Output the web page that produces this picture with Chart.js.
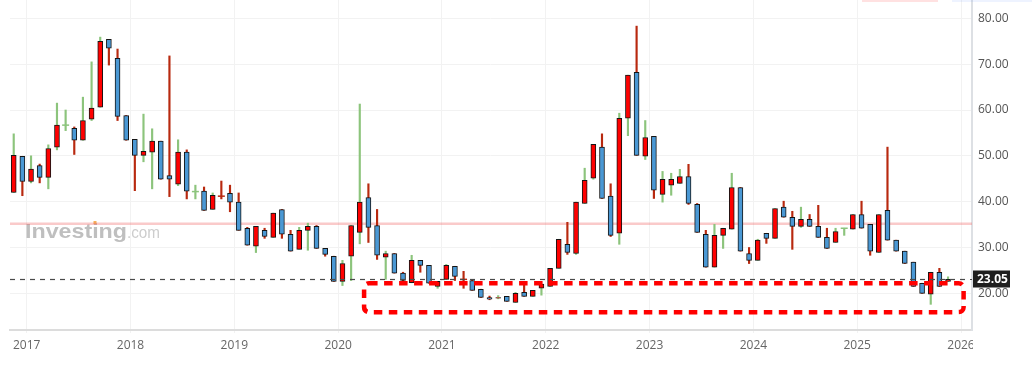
<!DOCTYPE html>
<html>
<head>
<meta charset="utf-8">
<script src="https://cdn.jsdelivr.net/npm/chart.js@4.4.1/dist/chart.umd.min.js"></script>
<style>
  html, body { margin: 0; padding: 0; background: #fff; }
  #chart { display: block; }
</style>
</head>
<body>
<canvas id="chart" width="1036" height="365"></canvas>
<script>
// ── Dados (velas mensais, nov/2016 → nov/2025) ───────────────────────────────
const firstMonthOffset = -2; // nov/2016 = 2 meses antes de jan/2017

const opens = [
  42.0, 49.9, 44.4, 47.9, 45.3, 51.9, 56.65, 56.0, 53.4, 58.0, 60.6, 75.4,
  71.3, 58.8, 53.6, 50.1, 50.8, 53.2, 45.7, 43.8, 50.8, 42.15, 42.3, 38.3,
  41.25, 41.8, 39.9, 34.2, 30.3, 33.75, 32.2, 38.3, 32.9, 29.6, 33.75, 34.6,
  29.8, 28.1, 22.6, 28.1, 33.3, 40.9, 34.8, 27.9, 28.7, 24.4, 22.3, 27.2,
  26.1, 21.5, 23.05, 25.9, 23.1, 22.8, 20.9, 19.1, 18.95, 19.35, 18.0, 20.2,
  19.35, 21.1, 21.5, 25.45, 30.7, 28.7, 39.6, 45.1, 51.9, 41.2, 33.1, 58.2,
  68.2, 49.9, 54.25, 41.6, 43.6, 44.0, 45.5, 39.4, 32.9, 25.7, 32.65, 34.0,
  43.1, 28.7, 27.2, 33.1, 32.0, 38.8, 36.6, 34.6, 36.15, 34.6, 32.2, 31.1,
  34.15, 34.0, 37.2, 35.05, 28.9, 38.1, 31.6, 29.2, 26.8, 22.2, 19.8, 24.6,
  22.6
];
const highs = [
  54.8, 49.9, 50.0, 48.2, 52.4, 61.5, 60.0, 56.3, 62.8, 70.5, 75.9, 75.4,
  73.3, 58.8, 53.6, 59.1, 55.9, 53.2, 71.8, 53.5, 51.3, 43.6, 43.2, 41.9,
  44.5, 43.6, 41.9, 34.4, 34.6, 34.2, 37.5, 38.3, 33.75, 34.4, 35.3, 34.8,
  29.8, 28.1, 27.2, 34.8, 61.3, 43.9, 38.3, 29.2, 28.7, 24.6, 28.3, 27.2,
  26.1, 22.6, 26.3, 25.9, 24.8, 23.05, 20.9, 19.4, 19.5, 19.35, 20.2, 22.2,
  20.65, 22.0, 25.45, 31.8, 35.5, 39.9, 47.3, 52.5, 54.8, 43.9, 59.3, 67.6,
  78.3, 57.7, 54.25, 46.6, 46.2, 47.05, 48.15, 39.6, 33.75, 35.05, 34.2, 46.2,
  43.1, 30.0, 31.8, 33.1, 38.5, 40.1, 37.9, 38.8, 37.2, 39.2, 34.2, 34.2,
  34.2, 37.2, 40.1, 35.05, 37.2, 51.9, 31.6, 29.2, 26.8, 22.2, 24.6, 25.45,
  23.6
];
const lows = [
  42.0, 41.3, 44.1, 44.1, 42.8, 51.3, 55.5, 50.3, 53.4, 57.7, 60.6, 69.8,
  57.7, 53.4, 42.4, 48.7, 42.8, 44.9, 41.1, 43.5, 40.6, 40.6, 38.1, 38.3,
  40.6, 37.8, 33.75, 30.5, 28.9, 32.0, 32.2, 32.0, 29.2, 29.6, 29.4, 29.8,
  28.1, 22.6, 21.7, 22.8, 30.8, 31.1, 27.4, 23.05, 24.4, 22.4, 22.3, 24.6,
  22.2, 21.1, 23.0, 22.8, 21.1, 20.65, 19.1, 18.6, 18.8, 18.25, 18.0, 19.35,
  19.35, 19.6, 21.5, 25.45, 28.5, 28.5, 39.6, 44.9, 40.7, 32.4, 30.7, 54.4,
  50.1, 49.2, 40.7, 39.9, 41.4, 44.0, 39.4, 33.3, 25.7, 25.7, 29.8, 34.0,
  29.2, 26.5, 27.2, 30.9, 32.0, 36.6, 29.6, 34.4, 34.6, 32.2, 29.8, 31.1,
  32.65, 34.0, 34.2, 28.3, 28.9, 31.6, 29.2, 26.5, 21.5, 20.0, 17.6, 21.5,
  22.6
];
const closes = [
  50.1, 44.4, 47.1, 45.3, 51.6, 56.7, 56.7, 53.4, 57.7, 60.4, 75.0, 73.5,
  58.6, 53.4, 50.1, 51.0, 53.2, 44.9, 44.9, 50.8, 42.3, 42.2, 38.1, 41.4,
  41.2, 39.9, 33.75, 30.5, 34.6, 32.4, 37.5, 32.9, 29.2, 33.75, 34.6, 29.8,
  28.5, 22.6, 26.5, 34.8, 39.9, 34.4, 28.3, 28.7, 24.4, 22.8, 27.2, 26.1,
  22.2, 22.6, 26.1, 23.7, 23.05, 20.65, 19.1, 18.7, 19.1, 18.25, 20.0, 19.35,
  20.65, 22.0, 25.45, 31.8, 28.9, 39.9, 44.65, 52.5, 40.7, 32.65, 58.2, 67.6,
  50.1, 54.0, 42.5, 44.9, 44.9, 45.5, 39.6, 33.3, 25.7, 32.65, 34.2, 43.1,
  29.2, 27.2, 31.6, 32.0, 38.5, 36.6, 34.6, 36.15, 34.6, 32.2, 29.8, 33.5,
  34.2, 37.2, 34.2, 29.2, 37.2, 31.6, 29.2, 26.5, 21.5, 20.0, 24.6, 21.5,
  23.05
];

const yearLabels = ["2017", "2018", "2019", "2020", "2021", "2022", "2023", "2024", "2025", "2026"];
const priceTicks = [20, 30, 40, 50, 60, 70, 80];

const lastPrice    = 23.05;          // linha tracejada + etiqueta
const resistance   = 35.2;           // linha rosa horizontal
const zoneMonths   = [38.5, 107.8];  // caixa vermelha (meses desde jan/2017)
const zonePrices   = [15.9, 22.2];

// ── Cores ───────────────────────────────────────────────────────────────────
const UP_BODY   = "#ff0000";
const DOWN_BODY = "#4a98d4";
const UP_WICK   = "#8cc47c";
const DOWN_WICK = "#b8290f";
const OUTLINE   = "#151515";

// ── Montagem dos datasets ───────────────────────────────────────────────────
const wickPts = [], wickColors = [];
const bodyPts = [], bodyColors = [];
const dojiPts = [], dojiColors = [];

opens.forEach((o, i) => {
  const c = closes[i];
  const x = i + firstMonthOffset;
  const wickColor = c >= o ? UP_WICK : DOWN_WICK;

  wickPts.push({ x, y: [lows[i], highs[i]] });
  wickColors.push(wickColor);

  if (Math.abs(c - o) < 0.08) {
    dojiPts.push({ x, y: c });
    dojiColors.push(wickColor);
  } else {
    bodyPts.push({ x, y: [o, c] });
    bodyColors.push(c > o ? UP_BODY : DOWN_BODY);
  }
});

// ── Plugin: marcas extras (marca d'água, linhas, caixa, etiqueta) ──────────
/**
 * Escreve um texto esticado até a largura pedida.
 */
function fitText(ctx, text, x, y, width, font, color) {
  ctx.font = font;
  ctx.fillStyle = color;
  const w = ctx.measureText(text).width;
  ctx.save();
  ctx.translate(x, y);
  ctx.scale(width / w, 1);
  ctx.fillText(text, 0, 0);
  ctx.restore();
}

const overlays = {
  id: "overlays",
  beforeDatasetsDraw(chart) {
    const { ctx, chartArea: a, scales: { y } } = chart;
    ctx.save();

    // marca d'água
    ctx.textBaseline = "alphabetic";
    fitText(ctx, "Investing", 25, 238, 102, "bold 21px 'Liberation Sans', sans-serif", "#bfbfbf");
    fitText(ctx, ".com", 127, 238, 33, "16px 'Liberation Sans', sans-serif", "#cdcdcd");
    ctx.fillStyle = "#f6b15a";
    ctx.fillRect(93.5, 221, 3, 3);

    // linha rosa
    const ry = y.getPixelForValue(resistance);
    ctx.strokeStyle = "rgba(240, 90, 90, 0.32)";
    ctx.lineWidth = 2.5;
    ctx.beginPath();
    ctx.moveTo(a.left, ry);
    ctx.lineTo(a.right, ry);
    ctx.stroke();

    ctx.restore();
  },
  afterDatasetsDraw(chart) {
    const { ctx, chartArea: a, scales: { x, y } } = chart;
    ctx.save();

    // último preço, tracejado
    const py = Math.round(y.getPixelForValue(lastPrice)) + 0.5;
    ctx.strokeStyle = "#4a4a4a";
    ctx.lineWidth = 1.2;
    ctx.setLineDash([5, 5]);
    ctx.beginPath();
    ctx.moveTo(a.left, py);
    ctx.lineTo(a.right, py);
    ctx.stroke();

    // caixa vermelha tracejada
    const x0 = x.getPixelForValue(zoneMonths[0]);
    const x1 = x.getPixelForValue(zoneMonths[1]);
    const y0 = y.getPixelForValue(zonePrices[1]);
    const y1 = y.getPixelForValue(zonePrices[0]);
    ctx.strokeStyle = "#ff0000";
    ctx.lineWidth = 4.5;
    ctx.setLineDash([8.5, 6.5]);
    ctx.beginPath();
    ctx.roundRect(x0, y0, x1 - x0, y1 - y0, 5);
    ctx.stroke();
    ctx.setLineDash([]);

    // etiqueta do preço
    ctx.fillStyle = "#1f1f1f";
    ctx.fillRect(a.right + 1, py - 9, 37, 17);
    ctx.fillStyle = "#ffffff";
    ctx.font = "bold 12px 'Open Sans', sans-serif";
    ctx.textBaseline = "middle";
    ctx.textAlign = "left";
    ctx.fillText(lastPrice.toFixed(2), a.right + 5, py + 0.5);

    ctx.restore();
  },
  afterDraw(chart) {
    const { ctx, chartArea: a } = chart;
    ctx.save();
    // rótulo de 2026 cortado na borda do gráfico
    ctx.fillStyle = "#ffffff";
    ctx.fillRect(a.right + 1, a.bottom + 2, chart.width - a.right, chart.height - a.bottom);
    // restos dos botões no topo
    ctx.fillStyle = "rgba(255, 90, 90, 0.18)";
    ctx.fillRect(862, 0, 76, 2);
    ctx.fillStyle = "rgba(90, 140, 255, 0.10)";
    ctx.fillRect(952, 0, 80, 2);
    ctx.restore();
  },
};

// ── Gráfico ─────────────────────────────────────────────────────────────────
Chart.defaults.font.family = "'Open Sans', sans-serif";

new Chart(document.getElementById("chart"), {
  type: "bar",
  data: {
    datasets: [
      {
        label: "pavio",
        data: wickPts,
        backgroundColor: wickColors,
        borderWidth: 0,
        barThickness: 1.5,
        grouped: false,
        order: 3,
      },
      {
        label: "corpo",
        data: bodyPts,
        backgroundColor: bodyColors,
        borderColor: OUTLINE,
        borderWidth: 1,
        borderSkipped: false,
        barThickness: 5,
        grouped: false,
        order: 2,
      },
      {
        type: "scatter",
        label: "doji",
        data: dojiPts,
        pointStyle: "line",
        radius: 3.5,
        borderWidth: 1.5,
        borderColor: dojiColors,
        showLine: false,
        order: 1,
      },
    ],
  },
  options: {
    responsive: false,
    animation: false,
    devicePixelRatio: 1,
    layout: { autoPadding: false, padding: { left: 10, right: 0, top: 0, bottom: 0 } },
    plugins: { legend: { display: false }, tooltip: { enabled: false } },
    events: [],
    scales: {
      x: {
        type: "linear",
        min: -2.43,
        max: 108.77,
        offset: false,
        afterBuildTicks: s => { s.ticks = yearLabels.map((_, k) => ({ value: 12 * k - 0.5 })); },
        afterFit: s => { s.height = 35; s.paddingLeft = 0; s.paddingRight = 0; },
        ticks: {
          autoSkip: false,
          maxRotation: 0,
          padding: 5,
          color: "#666",
          font: { size: 12 },
          callback: (v, idx) => yearLabels[idx] ?? "",
        },
        grid: { color: "#f2f2f2", offset: false, tickLength: 3 },
        border: { display: true, color: "#dcdcdc", width: 2 },
      },
      y: {
        type: "linear",
        position: "right",
        min: 12,
        max: 84,
        beginAtZero: false,
        afterBuildTicks: s => { s.ticks = priceTicks.map(v => ({ value: v })); },
        afterFit: s => { s.width = 64; s.paddingTop = 0; s.paddingBottom = 0; },
        ticks: {
          padding: 6,
          color: "#555",
          font: { size: 12 },
          callback: v => Number(v).toFixed(2),
        },
        grid: { color: "#f2f2f2", drawTicks: false },
        border: { display: true, color: "#dde0e4", width: 2 },
      },
    },
  },
  plugins: [overlays],
});
</script>
</body>
</html>
